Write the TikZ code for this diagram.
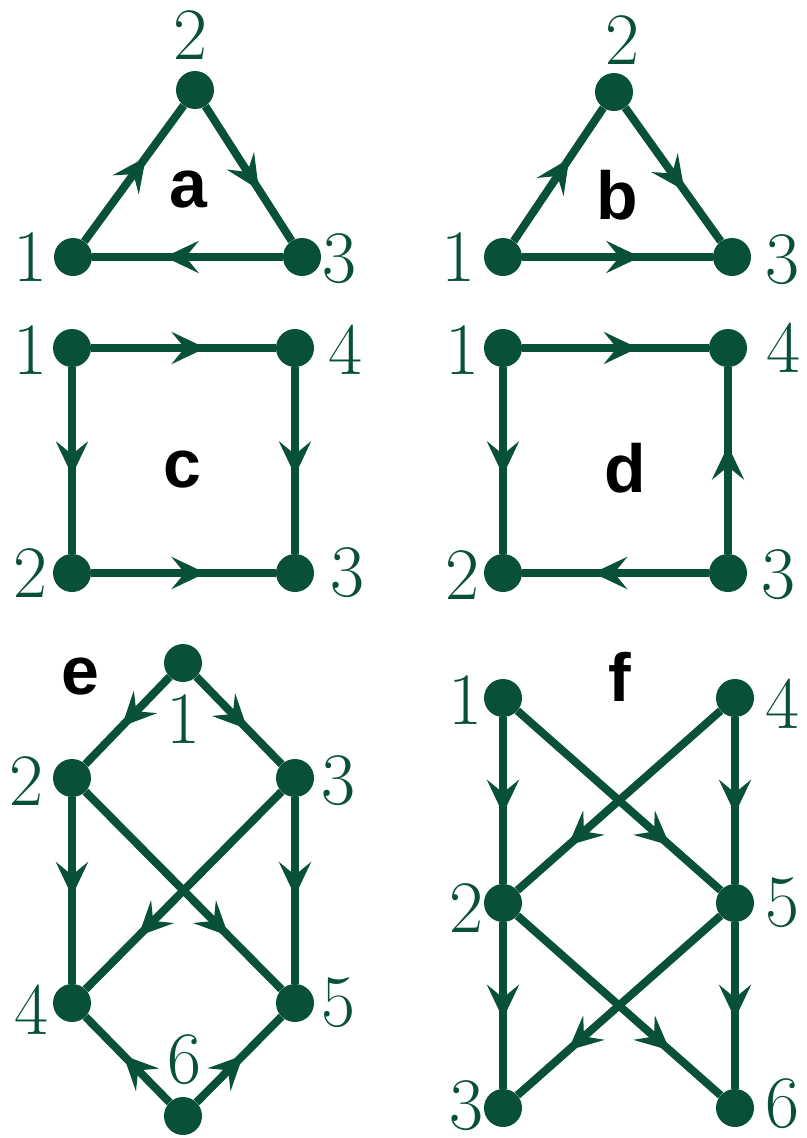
\documentclass[tikz,border=0pt]{standalone}
\usepackage{fontspec}
\newfontfamily\labfont{Liberation Sans}
\usetikzlibrary{arrows.meta,decorations.markings}
\definecolor{gr}{RGB}{8,80,56}
\begin{document}
\begin{tikzpicture}[x=1pt,y=-1pt,
  vtx/.style={circle,fill=gr,minimum size=38pt,inner sep=0pt},
  num/.style={text=gr,font=\fontsize{74}{74}\selectfont,inner sep=0pt},
  ttl/.style={font=\labfont\bfseries\fontsize{68}{68}\selectfont,inner sep=0pt},
  arc/.style={draw=gr,line width=8pt,postaction={decorate},
    decoration={markings,mark=at position #1 with {\arrow{Stealth[length=34pt,width=32pt,inset=13pt]}}}},
  arc/.default=0.62]
\useasboundingbox (0,0) rectangle (806,1138);
% panel a
\node[vtx] (a1) at (73,257) {};
\node[vtx] (a2) at (195,90) {};
\node[vtx] (a3) at (302,257) {};
\node[num] (la1) at (30,257) {1};
\node[num] (la2) at (190,35) {2};
\node[num] (la3) at (339,259) {3};
\node[ttl] (ta) at (188,190) {a};
\draw[arc] (a1) -- (a2);
\draw[arc] (a2) -- (a3);
\draw[arc] (a3) -- (a1);
% panel b
\node[vtx] (b1) at (503,257) {};
\node[vtx] (b2) at (614,92) {};
\node[vtx] (b3) at (732,257) {};
\node[num] (lb1) at (458,257) {1};
\node[num] (lb2) at (622,40) {2};
\node[num] (lb3) at (782,260) {3};
\node[ttl] (tb) at (617,195) {b};
\draw[arc] (b1) -- (b2);
\draw[arc] (b2) -- (b3);
\draw[arc] (b1) -- (b3);
% panel c
\node[vtx] (c1) at (72,348) {};
\node[vtx] (c4) at (295,348) {};
\node[vtx] (c2) at (72,573) {};
\node[vtx] (c3) at (295,573) {};
\node[num] (lc1) at (30,350) {1};
\node[num] (lc4) at (345,350) {4};
\node[num] (lc2) at (30,573) {2};
\node[num] (lc3) at (347,573) {3};
\node[ttl] (tc) at (182,470) {c};
\draw[arc] (c1) -- (c4);
\draw[arc=0.58] (c1) -- (c2);
\draw[arc=0.58] (c4) -- (c3);
\draw[arc] (c2) -- (c3);
% panel d
\node[vtx] (d1) at (503,348) {};
\node[vtx] (d4) at (728,348) {};
\node[vtx] (d2) at (503,573) {};
\node[vtx] (d3) at (728,573) {};
\node[num] (ld1) at (462,350) {1};
\node[num] (ld4) at (783,348) {4};
\node[num] (ld2) at (462,575) {2};
\node[num] (ld3) at (778,575) {3};
\node[ttl] (td) at (625,468) {d};
\draw[arc] (d1) -- (d4);
\draw[arc=0.58] (d1) -- (d2);
\draw[arc=0.58] (d3) -- (d4);
\draw[arc] (d3) -- (d2);
% panel e
\node[vtx] (e1) at (183,663) {};
\node[vtx] (e2) at (72,778) {};
\node[vtx] (e3) at (295,778) {};
\node[vtx] (e4) at (72,1003) {};
\node[vtx] (e5) at (295,1003) {};
\node[vtx] (e6) at (183,1116) {};
\node[num] (le1) at (183,719) {1};
\node[num] (le2) at (26,781) {2};
\node[num] (le3) at (338,781) {3};
\node[num] (le4) at (31,1010) {4};
\node[num] (le5) at (338,1003) {5};
\node[num] (le6) at (184,1060) {6};
\node[ttl] (te) at (80,677) {e};
\draw[arc=0.57] (e1) -- (e2);
\draw[arc=0.6] (e1) -- (e3);
\draw[arc=0.53] (e2) -- (e4);
\draw[arc=0.53] (e3) -- (e5);
\draw[arc=0.73] (e2) -- (e5);
\draw[arc=0.73] (e3) -- (e4);
\draw[arc=0.55] (e6) -- (e4);
\draw[arc=0.55] (e6) -- (e5);
% panel f
\node[vtx] (f1) at (503,698) {};
\node[vtx] (f4) at (735,698) {};
\node[vtx] (f2) at (503,903) {};
\node[vtx] (f5) at (735,903) {};
\node[vtx] (f3) at (503,1108) {};
\node[vtx] (f6) at (735,1108) {};
\node[num] (lf1) at (465,700) {1};
\node[num] (lf4) at (782,704) {4};
\node[num] (lf2) at (466,908) {2};
\node[num] (lf5) at (782,903) {5};
\node[num] (lf3) at (466,1106) {3};
\node[num] (lf6) at (782,1104) {6};
\node[ttl] (tf) at (620,677) {f};
\draw[arc=0.58] (f1) -- (f2);
\draw[arc=0.75] (f1) -- (f5);
\draw[arc=0.75] (f4) -- (f2);
\draw[arc=0.58] (f4) -- (f5);
\draw[arc=0.58] (f2) -- (f3);
\draw[arc=0.75] (f2) -- (f6);
\draw[arc=0.75] (f5) -- (f3);
\draw[arc=0.58] (f5) -- (f6);
\end{tikzpicture}
\end{document}
